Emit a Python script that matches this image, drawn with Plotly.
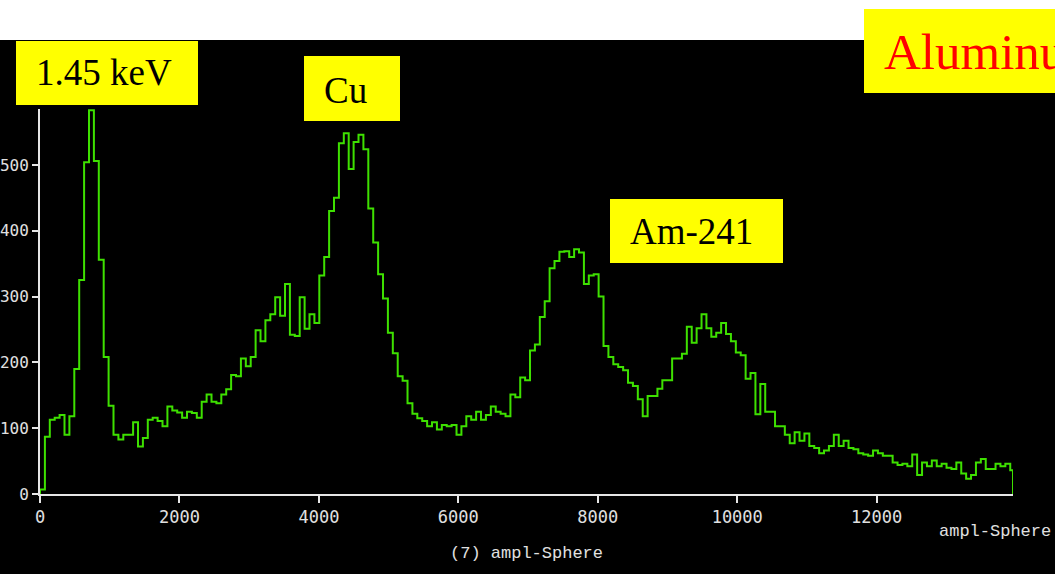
import plotly.graph_objects as go

# ---- data ----
counts = [
    7, 87, 113, 116, 120, 90, 118, 190, 325, 504,
    583, 506, 356, 208, 134, 90, 83, 90, 90, 109,
    72, 85, 113, 116, 111, 103, 133, 127, 124, 116,
    125, 123, 116, 140, 151, 140, 138, 151, 159, 181,
    179, 206, 194, 208, 249, 232, 264, 273, 299, 271,
    319, 242, 240, 299, 251, 273, 260, 332, 360, 430,
    450, 533, 548, 494, 535, 546, 524, 434, 382, 334,
    297, 245, 214, 179, 172, 138, 122, 115, 111, 103,
    109, 98, 105, 103, 105, 90, 103, 118, 113, 125,
    113, 120, 133, 125, 122, 118, 151, 147, 177, 173,
    218, 227, 269, 293, 343, 354, 368, 369, 360, 372,
    367, 319, 332, 334, 300, 225, 208, 197, 193, 188,
    169, 164, 144, 118, 149, 149, 160, 173, 173, 206,
    206, 213, 254, 230, 252, 273, 252, 239, 245, 260,
    243, 232, 215, 211, 175, 184, 121, 167, 125, 125,
    103, 103, 90, 77, 94, 81, 92, 73, 70, 62,
    66, 73, 90, 73, 81, 70, 68, 62, 60, 58,
    66, 62, 58, 58, 48, 44, 46, 42, 60, 29,
    48, 42, 51, 42, 46, 40, 38, 48, 31, 23,
    29, 48, 53, 38, 38, 46, 42, 46, 36,
]
bin_width = 70.28
x_max = 13955
y_max = 585
x_ticks = [0, 2000, 4000, 6000, 8000, 10000, 12000]
y_ticks = [0, 100, 200, 300, 400, 500]
peak_labels = ["1.45 keV", "Cu", "Am-241"]
material_label = "Aluminum"
axis_label = "ampl-Sphere"
hist_title = "(7) ampl-Sphere"

# ---- layout geometry (pixels) ----
W, H = 1055, 574
L, R, T, B = 40, 42, 109, 80
pw = W - L - R
ph = H - T - B


def px(x):
    return (x - L) / pw


def py(y):
    return (H - B - y) / ph


edges = [min(i * bin_width, x_max) for i in range(len(counts) + 1)]
xs = [edges[0]] + edges[:-1] + [edges[-1], edges[-1]]
ys = [0] + counts + [counts[-1], 0]

fig = go.Figure()
fig.add_trace(go.Scatter(
    x=xs, y=ys, mode="lines", line=dict(color="#3ee000", width=2, shape="hv"),
    hoverinfo="skip", showlegend=False,
))

axis_col = "#e6e6e6"
x_tick_font = dict(family="DejaVu Sans Mono", size=17, color="#e0e0e0")
y_tick_font = dict(family="DejaVu Sans Mono", size=16, color="#e0e0e0")

fig.update_xaxes(
    range=[0, x_max], tickvals=x_ticks, ticktext=[str(v) for v in x_ticks],
    showgrid=False, zeroline=False, showline=True, linecolor=axis_col, linewidth=2,
    ticks="outside", ticklen=7, tickwidth=2, tickcolor=axis_col, tickfont=x_tick_font,
    automargin=False,
)
fig.update_yaxes(
    range=[0, y_max], tickvals=y_ticks, ticktext=[str(v) for v in y_ticks],
    showgrid=False, zeroline=False, showline=True, linecolor=axis_col, linewidth=2,
    ticks="outside", ticklen=6, tickwidth=2, tickcolor=axis_col, tickfont=y_tick_font,
    automargin=False,
)

shapes = [
    # white band at top
    dict(type="rect", xref="paper", yref="paper", x0=px(-5), x1=px(W + 5), y0=py(40), y1=py(-5),
         fillcolor="white", line=dict(width=0), layer="above"),
]
boxes = [(16, 41, 198, 105), (304, 56, 400, 121), (610, 199, 783, 263), (864, 9, 1060, 93)]
for (x0, y0, x1, y1) in boxes:
    shapes.append(dict(type="rect", xref="paper", yref="paper", x0=px(x0), x1=px(x1),
                       y0=py(y1), y1=py(y0), fillcolor="#ffff00", line=dict(width=0), layer="above"))

serif = "Liberation Serif"
annotations = []
label_pos = [(104, 73), (345, 90), (691, 231)]
for text, (cx, cy) in zip(peak_labels, label_pos):
    annotations.append(dict(text=text, x=px(cx), y=py(cy), xref="paper", yref="paper",
                            showarrow=False, xanchor="center", yanchor="middle",
                            font=dict(family=serif, size=37, color="black")))
annotations.append(dict(text=material_label, x=px(882), y=py(52), xref="paper", yref="paper",
                        showarrow=False, xanchor="left", yanchor="middle",
                        font=dict(family=serif, size=51, color="#ff0000")))
mono = "Liberation Mono"
annotations.append(dict(text=axis_label, x=px(1053), y=py(531), xref="paper", yref="paper",
                        showarrow=False, xanchor="right", yanchor="middle",
                        font=dict(family=mono, size=17, color="#e0e0e0")))
annotations.append(dict(text=hist_title, x=px(526), y=py(553), xref="paper", yref="paper",
                        showarrow=False, xanchor="center", yanchor="middle",
                        font=dict(family=mono, size=17, color="#e0e0e0")))

fig.update_layout(
    width=W, height=H, margin=dict(l=L, r=R, t=T, b=B, pad=0, autoexpand=False),
    paper_bgcolor="black", plot_bgcolor="black",
    shapes=shapes, annotations=annotations, showlegend=False,
)

fig.write_html("out.html", config={"displayModeBar": False},
               post_script="document.body.style.margin='0';")
